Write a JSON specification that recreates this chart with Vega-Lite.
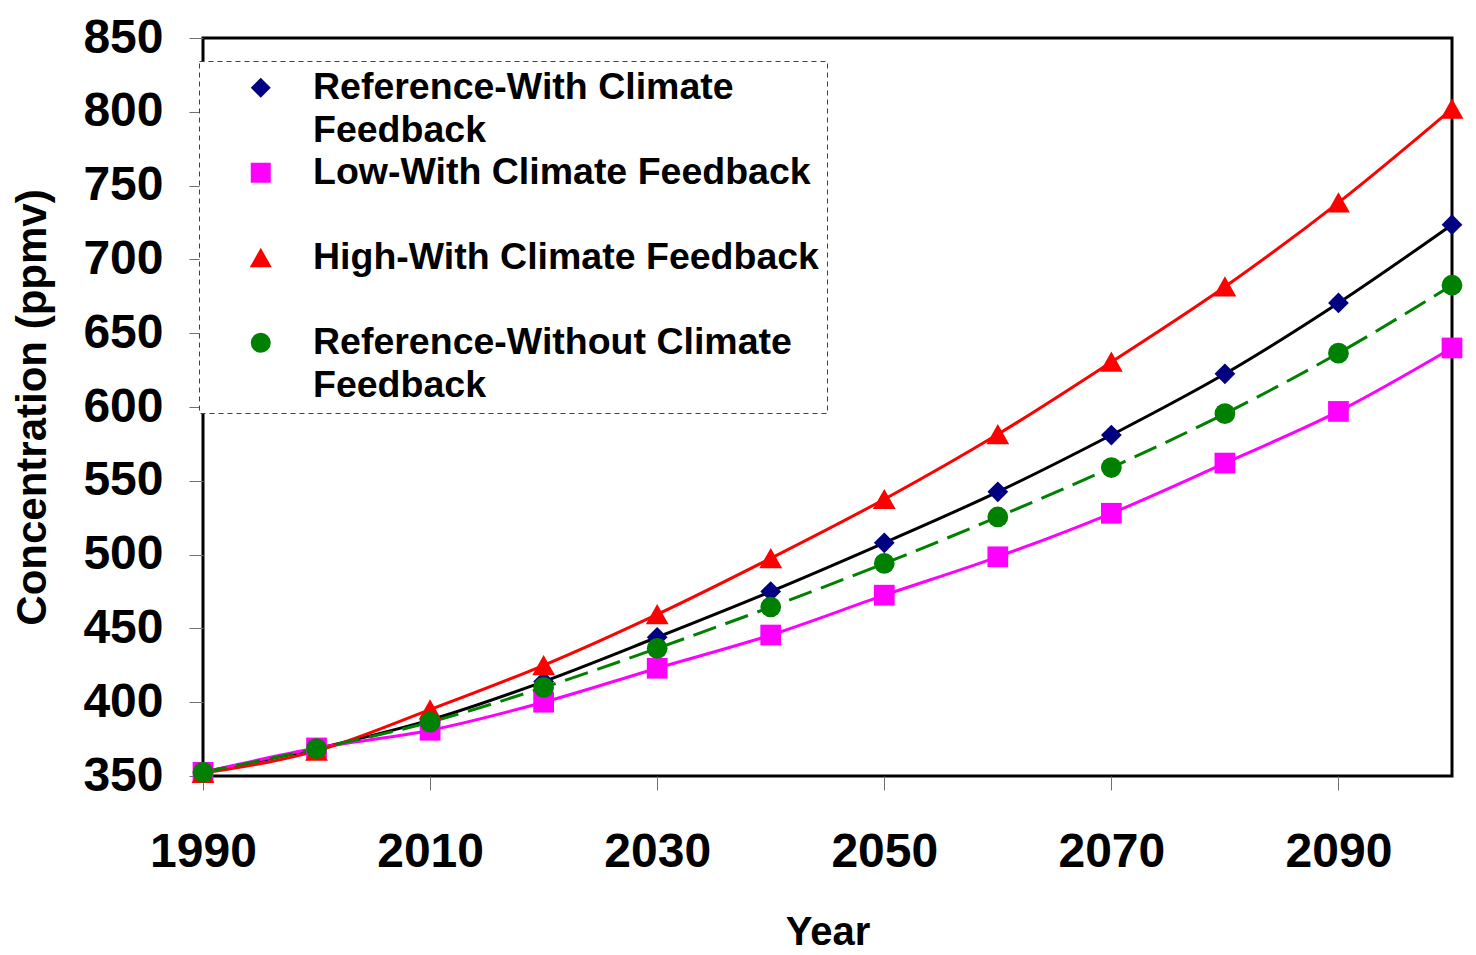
{
  "$schema": "https://vega.github.io/schema/vega-lite/v6.json",
  "width": 1249,
  "height": 738,
  "autosize": {"type": "none"},
  "padding": {"left": 203, "top": 38, "right": 24, "bottom": 179},
  "background": "white",
  "config": {
    "font": "Liberation Sans",
    "view": {"stroke": "black", "strokeWidth": 3},
    "axis": {
      "labelFont": "Liberation Sans", "labelFontWeight": "bold", "labelColor": "black",
      "titleFont": "Liberation Sans", "titleFontWeight": "bold", "titleColor": "black",
      "grid": false, "domain": false, "tickColor": "#707070", "tickWidth": 1, "tickSize": 14,
      "labelFlush": false, "labelOverlap": false
    }
  },
  "data": {"values": [
    {"year": 1990, "series": "Reference-With Climate Feedback", "value": 352.7},
    {"year": 2000, "series": "Reference-With Climate Feedback", "value": 368.5},
    {"year": 2010, "series": "Reference-With Climate Feedback", "value": 388},
    {"year": 2020, "series": "Reference-With Climate Feedback", "value": 414},
    {"year": 2030, "series": "Reference-With Climate Feedback", "value": 444},
    {"year": 2040, "series": "Reference-With Climate Feedback", "value": 475},
    {"year": 2050, "series": "Reference-With Climate Feedback", "value": 508},
    {"year": 2060, "series": "Reference-With Climate Feedback", "value": 542.5},
    {"year": 2070, "series": "Reference-With Climate Feedback", "value": 581},
    {"year": 2080, "series": "Reference-With Climate Feedback", "value": 622.5},
    {"year": 2090, "series": "Reference-With Climate Feedback", "value": 670.5},
    {"year": 2100, "series": "Reference-With Climate Feedback", "value": 723.5},
    {"year": 1990, "series": "Low-With Climate Feedback", "value": 352.5},
    {"year": 2000, "series": "Low-With Climate Feedback", "value": 369},
    {"year": 2010, "series": "Low-With Climate Feedback", "value": 381},
    {"year": 2020, "series": "Low-With Climate Feedback", "value": 400},
    {"year": 2030, "series": "Low-With Climate Feedback", "value": 423},
    {"year": 2040, "series": "Low-With Climate Feedback", "value": 445.5},
    {"year": 2050, "series": "Low-With Climate Feedback", "value": 472.5},
    {"year": 2060, "series": "Low-With Climate Feedback", "value": 498.5},
    {"year": 2070, "series": "Low-With Climate Feedback", "value": 528},
    {"year": 2080, "series": "Low-With Climate Feedback", "value": 562},
    {"year": 2090, "series": "Low-With Climate Feedback", "value": 597},
    {"year": 2100, "series": "Low-With Climate Feedback", "value": 640},
    {"year": 1990, "series": "High-With Climate Feedback", "value": 352},
    {"year": 2000, "series": "High-With Climate Feedback", "value": 367},
    {"year": 2010, "series": "High-With Climate Feedback", "value": 395},
    {"year": 2020, "series": "High-With Climate Feedback", "value": 425},
    {"year": 2030, "series": "High-With Climate Feedback", "value": 459.5},
    {"year": 2040, "series": "High-With Climate Feedback", "value": 497.5},
    {"year": 2050, "series": "High-With Climate Feedback", "value": 537.5},
    {"year": 2060, "series": "High-With Climate Feedback", "value": 581.5},
    {"year": 2070, "series": "High-With Climate Feedback", "value": 630.5},
    {"year": 2080, "series": "High-With Climate Feedback", "value": 681.5},
    {"year": 2090, "series": "High-With Climate Feedback", "value": 738.5},
    {"year": 2100, "series": "High-With Climate Feedback", "value": 802},
    {"year": 1990, "series": "Reference-Without Climate Feedback", "value": 352.5},
    {"year": 2000, "series": "Reference-Without Climate Feedback", "value": 368.5},
    {"year": 2010, "series": "Reference-Without Climate Feedback", "value": 386.5},
    {"year": 2020, "series": "Reference-Without Climate Feedback", "value": 410},
    {"year": 2030, "series": "Reference-Without Climate Feedback", "value": 436.5},
    {"year": 2040, "series": "Reference-Without Climate Feedback", "value": 464.5},
    {"year": 2050, "series": "Reference-Without Climate Feedback", "value": 494},
    {"year": 2060, "series": "Reference-Without Climate Feedback", "value": 525.5},
    {"year": 2070, "series": "Reference-Without Climate Feedback", "value": 559},
    {"year": 2080, "series": "Reference-Without Climate Feedback", "value": 595.5},
    {"year": 2090, "series": "Reference-Without Climate Feedback", "value": 636.5},
    {"year": 2100, "series": "Reference-Without Climate Feedback", "value": 682.5}
  ]},
  "encoding": {
    "x": {
      "field": "year", "type": "quantitative",
      "scale": {"domain": [1990, 2100], "nice": false, "zero": false},
      "axis": {"values": [1990, 2010, 2030, 2050, 2070, 2090], "format": "d", "title": "Year",
               "labelFontSize": 48, "labelPadding": 38, "titleFontSize": 40, "titlePadding": 36}
    },
    "y": {
      "field": "value", "type": "quantitative",
      "scale": {"domain": [350, 850], "nice": false, "zero": false},
      "axis": {"values": [350, 400, 450, 500, 550, 600, 650, 700, 750, 800, 850], "title": "Concentration (ppmv)",
               "labelFontSize": 48, "labelPadding": 26, "titleFontSize": 42, "titlePadding": 28}
    }
  },
  "layer": [
    {
      "transform": [{"filter": "datum.series !== 'Reference-Without Climate Feedback'"}],
      "mark": {"type": "line", "strokeWidth": 3, "interpolate": "monotone"},
      "encoding": {
        "stroke": {
          "field": "series", "type": "nominal",
          "scale": {"domain": ["Reference-With Climate Feedback", "Low-With Climate Feedback", "High-With Climate Feedback", "Reference-Without Climate Feedback"],
                    "range": ["#000000", "#FF00FF", "#FF0000", "#008000"]},
          "legend": {
            "orient": "none", "legendX": -4, "legendY": 23, "title": null,
            "padding": 8, "rowPadding": 3,
            "fillColor": "white", "strokeColor": "#404040",
            "labelFont": "Liberation Sans", "labelFontSize": 37.5, "labelFontWeight": "bold", "labelColor": "black", "labelLimit": 1000,
            "symbolSize": 400, "symbolStrokeWidth": 0, "symbolOffset": 35, "labelOffset": 33.5,
            "labelExpr": "datum.label === 'Reference-With Climate Feedback' ? ['Reference-With Climate', 'Feedback'] : datum.label === 'Reference-Without Climate Feedback' ? ['Reference-Without Climate', 'Feedback'] : [datum.label, '']",
            "encode": {
              "legend": {"update": {"strokeDash": {"value": [5, 4]}, "strokeWidth": {"value": 1}}},
              "symbols": {"update": {
                "shape": {"signal": "datum.value === 'Reference-With Climate Feedback' ? 'M-4.35,-0.15L-0.86,-0.15L0,-1.05L0.86,-0.15L4.35,-0.15L4.35,0.15L0.86,0.15L0,1.05L-0.86,0.15L-4.35,0.15Z' : datum.value === 'Low-With Climate Feedback' ? 'M-4.35,-0.15L-0.95,-0.15L-0.95,-0.95L0.95,-0.95L0.95,-0.15L4.35,-0.15L4.35,0.15L0.95,0.15L0.95,0.95L-0.95,0.95L-0.95,0.15L-4.35,0.15Z' : datum.value === 'High-With Climate Feedback' ? 'M-4.35,-0.15L-0.435,-0.15L0,-1L0.435,-0.15L4.35,-0.15L4.35,0.15L0.589,0.15L1.05,1.05L-1.05,1.05L-0.589,0.15L-4.35,0.15Z' : 'M-4.4,-0.15L-0.989,-0.15L-0.866,-0.5L-0.5,-0.866L0,-1L0.5,-0.866L0.866,-0.5L0.989,-0.15L2.9,-0.15L2.9,0.15L0.989,0.15L0.866,0.5L0.5,0.866L0,1L-0.5,0.866L-0.866,0.5L-0.989,0.15L-4.4,0.15Z'"},
                "size": {"value": 400},
                "fill": {"signal": "datum.value === 'Reference-With Climate Feedback' ? '#000060' : datum.value === 'Low-With Climate Feedback' ? '#FF00FF' : datum.value === 'High-With Climate Feedback' ? '#FF0000' : '#008000'"},
                "strokeWidth": {"value": 0},
                "fillOpacity": {"value": 1}
              }},
              "labels": {"update": {"lineHeight": {"value": 43}}}
            }
          }
        }
      }
    },
    {
      "transform": [{"filter": "datum.series === 'Reference-Without Climate Feedback'"}],
      "mark": {"type": "line", "strokeWidth": 3, "interpolate": "monotone", "strokeDash": [24, 10]},
      "encoding": {
        "stroke": {"field": "series", "type": "nominal"}
      }
    },
    {
      "mark": {"type": "point", "filled": true, "opacity": 1, "size": 430},
      "encoding": {
        "fill": {
          "field": "series", "type": "nominal",
          "scale": {"domain": ["Reference-With Climate Feedback", "Low-With Climate Feedback", "High-With Climate Feedback", "Reference-Without Climate Feedback"],
                    "range": ["#000080", "#FF00FF", "#FF0000", "#008000"]},
          "legend": null
        },
        "shape": {
          "field": "series", "type": "nominal",
          "scale": {"domain": ["Reference-With Climate Feedback", "Low-With Climate Feedback", "High-With Climate Feedback", "Reference-Without Climate Feedback"],
                    "range": ["diamond", "square", "M0,-1L1.1,0.95L-1.1,0.95Z", "circle"]},
          "legend": null
        }
      }
    }
  ]
}
